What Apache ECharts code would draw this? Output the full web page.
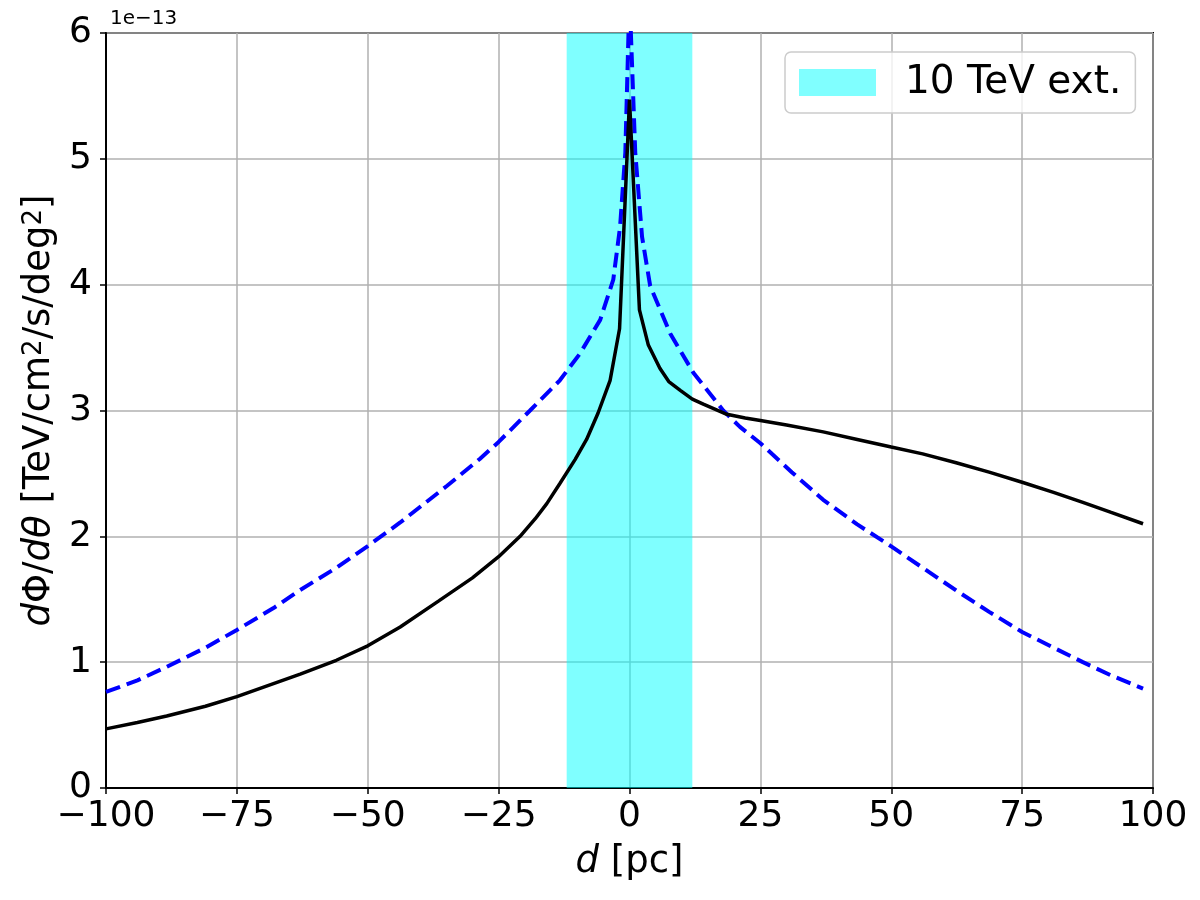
<!DOCTYPE html>
<html>
<head>
<meta charset="utf-8">
<script src="https://cdn.jsdelivr.net/npm/echarts@6/dist/echarts.min.js"></script>
<style>
  html, body { margin: 0; padding: 0; background: #fff; }
  #main { width: 1200px; height: 900px; }
</style>
</head>
<body>
<div id="main"></div>
<script>
// values in units of 1e-13 TeV/cm^2/s/deg^2
var xTicks = [-100, -75, -50, -25, 0, 25, 50, 75, 100];
var yTicks = [0, 1, 2, 3, 4, 5, 6];

var bandRange = [-12, 12]; // 10 TeV extension

// black solid curve
var xBlack = [-100, -94, -88.4, -81, -75, -62.9, -56, -50, -43.8, -36.5, -30, -25, -20.9, -18, -15.8, -13.3, -10.4, -8.2, -6.0, -3.7, -1.9, 0,
              1.9, 3.6, 5.8, 7.5, 9.7, 12, 14.1, 18.6, 22.1, 25, 30, 37, 43.5, 50, 56, 62.4, 68.7, 75, 81, 86.6, 92, 98.1];
var yBlack = [0.47, 0.52, 0.572, 0.65, 0.726, 0.905, 1.015, 1.13, 1.28, 1.485, 1.67, 1.838, 2.0, 2.14, 2.26, 2.42, 2.61, 2.77, 2.98, 3.24, 3.65, 5.47,
              3.80, 3.52, 3.335, 3.23, 3.16, 3.09, 3.05, 2.97, 2.94, 2.92, 2.885, 2.83, 2.77, 2.71, 2.655, 2.585, 2.51, 2.43, 2.35, 2.27, 2.19, 2.10];

// blue dashed curve
var xBlue = [-100, -94, -88.4, -81, -75, -68, -62.9, -56, -50, -43.8, -34.9, -28.6, -25, -19, -15.2, -13.3, -9.5, -5.6, -3.1, -1.8, -0.8, 0,
             1.1, 2.4, 3.95, 7.8, 12.2, 17.9, 21.1, 25, 31, 37, 43.5, 50, 56, 62.4, 68.7, 75, 81, 86.6, 92, 98.1];
var yBlue = [0.763, 0.855, 0.963, 1.115, 1.256, 1.43, 1.574, 1.75, 1.923, 2.11, 2.40, 2.615, 2.75, 3.00, 3.16, 3.24, 3.45, 3.72, 4.04, 4.46, 5.05, 6.3,
             5.05, 4.38, 3.99, 3.61, 3.30, 3.00, 2.87, 2.74, 2.51, 2.29, 2.095, 1.92, 1.75, 1.57, 1.40, 1.24, 1.115, 1.0, 0.895, 0.79];

function pairs(xs, ys) {
    return xs.map(function (x, i) { return [x, ys[i]]; });
}

var font = 'DejaVu Sans';
var chart = echarts.init(document.getElementById('main'));

var option = {
    animation: false,
    textStyle: { fontFamily: font },
    title: {
        text: '1e\u221213',
        left: 105,
        top: 4,
        textStyle: { fontFamily: font, fontSize: 20, fontWeight: 'normal', color: '#000' }
    },
    legend: {
        left: 785,
        top: 52,
        padding: [11, 14, 11, 14],
        itemWidth: 77,
        itemHeight: 27,
        backgroundColor: 'rgba(255,255,255,0.8)',
        borderColor: '#cccccc',
        borderWidth: 1.5,
        borderRadius: 6,
        data: [{ name: '10 TeV ext.', icon: 'rect', itemStyle: { color: '#80ffff' } }],
        textStyle: { fontFamily: font, fontSize: 39, color: '#000', padding: [0, 0, 0, 24] }
    },
    grid: {
        left: 106,
        top: 33,
        width: 1047,
        height: 755,
        show: true,
        borderColor: '#000',
        borderWidth: 2,
        backgroundColor: 'transparent'
    },
    xAxis: {
        type: 'value',
        min: xTicks[0],
        max: xTicks[xTicks.length - 1],
        interval: 25,
        name: '{i|d} [pc]',
        nameLocation: 'middle',
        nameGap: 56,
        nameTextStyle: {
            fontFamily: font, fontSize: 37, color: '#000',
            rich: { i: { fontFamily: font, fontSize: 37, fontStyle: 'italic', color: '#000' } }
        },
        axisLine: { show: true, onZero: false, lineStyle: { color: '#000', width: 2 } },
        axisTick: { show: true, length: 6, lineStyle: { color: '#000', width: 1.5 } },
        axisLabel: {
            fontFamily: font, fontSize: 36, color: '#000', margin: 11,
            formatter: function (v) { return v < 0 ? '\u2212' + Math.abs(v) : String(v); }
        },
        splitLine: { show: true, lineStyle: { color: '#b0b0b0', width: 1.5 } }
    },
    yAxis: {
        type: 'value',
        min: yTicks[0],
        max: yTicks[yTicks.length - 1],
        interval: 1,
        name: '{i|d}\u03a6/{i|d\u03b8} [TeV/cm{s|2}/s/deg{s|2}]',
        nameLocation: 'middle',
        nameRotate: 90,
        nameGap: 40,
        nameTextStyle: {
            fontFamily: font, fontSize: 37, color: '#000',
            rich: {
                i: { fontFamily: font, fontSize: 37, fontStyle: 'italic', color: '#000' },
                s: { fontFamily: font, fontSize: 26, color: '#000', verticalAlign: 'top', padding: [0, 0, 8, 0] }
            }
        },
        axisLine: { show: true, onZero: false, lineStyle: { color: '#000', width: 2 } },
        axisTick: { show: true, length: 6, lineStyle: { color: '#000', width: 1.5 } },
        axisLabel: { fontFamily: font, fontSize: 36, color: '#000', margin: 14 },
        splitLine: { show: true, lineStyle: { color: '#b0b0b0', width: 1.5 } }
    },
    series: [
        {
            name: '10 TeV ext.',
            type: 'line',
            data: [],
            itemStyle: { color: '#80ffff' },
            markArea: {
                silent: true,
                itemStyle: { color: '#00ffff', opacity: 0.5 },
                data: [[{ xAxis: bandRange[0] }, { xAxis: bandRange[1] }]]
            }
        },
        {
            name: 'blue',
            type: 'line',
            data: pairs(xBlue, yBlue),
            showSymbol: false,
            clip: true,
            lineStyle: { color: '#0000ff', width: 4, type: [15, 7] }
        },
        {
            name: 'black',
            type: 'line',
            data: pairs(xBlack, yBlack),
            showSymbol: false,
            clip: true,
            lineStyle: { color: '#000', width: 3.5 }
        }
    ]
};

chart.setOption(option);
</script>
</body>
</html>
